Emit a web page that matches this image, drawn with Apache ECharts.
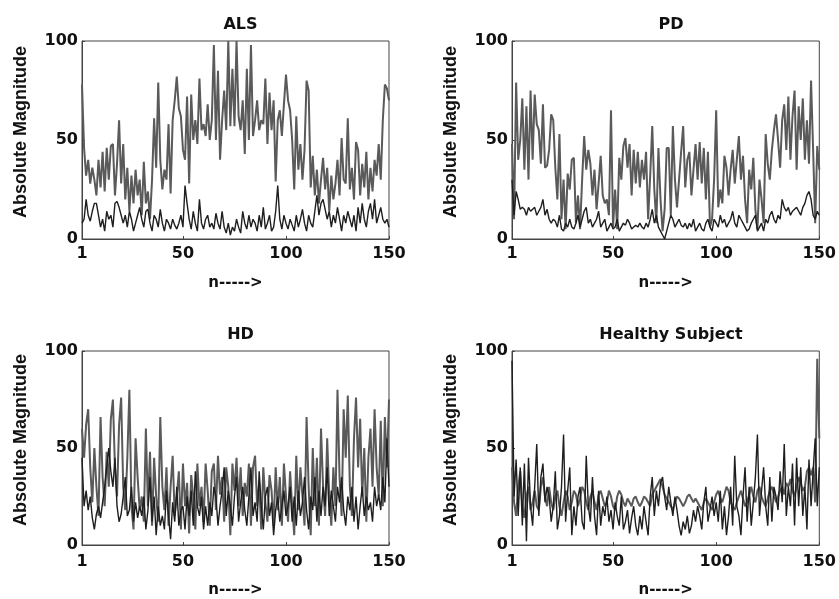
<!DOCTYPE html>
<html>
<head>
<meta charset="utf-8">
<script src="https://cdn.jsdelivr.net/npm/echarts@6/dist/echarts.min.js"></script>
<style>html,body{margin:0;padding:0;background:#fff}#c{width:839px;height:599px}</style>
</head>
<body>
<div id="c"></div>
<script>
const titles = ["ALS", "PD", "HD", "Healthy Subject"];
const xTicks = [1, 50, 100, 150];
const yTicks = [0, 50, 100];

const ALS_A = [78,46,32,40,28,36,30,22,40,26, 44,24,46,30,47,48,22,38,60,28, 48,20,36,14,32,18,35,22,30,12,
  39,18,24,10,30,61,36,79,40,25, 35,30,58,23,60,70,82,66,62,45, 40,72,28,73,50,60,48,81,55,58,
  52,68,50,60,98,50,85,40,60,75, 55,100,57,86,57,100,62,55,70,43, 86,50,98,52,60,70,55,60,58,81,
  48,74,55,70,29,60,65,52,68,83, 70,65,50,25,62,35,48,30,45,80, 75,26,42,22,35,18,30,41,25,36,
  14,32,20,28,40,22,51,30,28,61, 25,36,20,49,45,22,38,26,44,20, 36,24,40,32,48,30,60,78,76,70];
const ALS_B = [8,10,20,12,9,14,18,18,12,6, 10,4,14,10,12,6,18,19,16,12, 8,12,6,14,10,4,8,12,16,10,
  6,14,15,8,4,12,10,6,15,8, 4,10,8,5,10,7,5,8,12,6, 27,18,10,5,14,8,4,20,8,5,
  10,12,6,8,5,13,8,5,14,6, 3,8,2,6,4,10,6,3,14,8, 5,12,6,10,8,4,12,6,16,5,
  8,12,4,6,14,27,10,5,12,8, 5,10,7,4,12,6,10,15,8,4, 12,8,6,14,22,12,18,20,15,10,
  14,6,12,8,16,10,4,12,8,14, 10,6,12,4,16,8,18,10,6,14, 18,10,20,8,12,16,10,8,10,6];

const PD_A = [48,10,79,40,50,71,35,67,30,75, 40,73,58,55,38,68,36,37,45,63, 60,36,20,53,10,30,5,33,25,40,
  41,8,22,5,30,52,35,45,38,22, 35,15,28,42,22,18,20,12,65,6, 25,5,41,30,47,51,36,48,22,45,
  28,44,26,40,30,44,10,32,57,25, 8,46,20,4,15,46,46,12,57,30, 16,30,44,57,26,40,44,22,35,48,
  30,49,28,46,20,44,6,10,30,65, 16,25,18,42,36,22,35,45,28,40, 52,30,42,20,8,35,25,41,15,5,
  30,20,8,53,38,30,45,55,63,50, 36,60,68,45,72,40,62,75,35,67, 50,71,40,60,38,80,45,8,47,35];
const PD_B = [30,12,24,20,15,16,15,12,16,14, 15,16,12,14,16,20,12,15,10,8, 10,9,6,12,5,4,8,6,10,6,
  5,8,12,6,10,14,16,8,10,6, 8,10,14,6,8,10,4,6,8,5, 6,10,4,6,8,7,10,8,5,6,
  7,6,8,6,5,8,6,10,15,8, 12,6,4,2,0,4,8,12,10,6, 8,10,7,6,8,5,8,6,10,4,
  6,8,5,4,8,10,6,4,10,8, 6,12,8,10,6,8,10,14,8,6, 12,10,8,6,4,5,8,10,12,4,
  6,8,4,10,8,12,14,10,8,12, 10,20,16,14,16,12,14,15,16,14, 12,16,18,22,24,20,12,10,14,12];

const HD_A = [60,45,62,70,40,22,50,30,15,66, 35,20,48,30,65,75,40,25,62,76, 30,18,45,80,20,8,55,35,18,25,
  12,60,20,48,10,45,25,12,66,30, 18,40,10,30,46,15,25,38,8,42, 20,32,6,36,25,8,42,20,30,12,
  42,28,10,38,42,18,46,26,35,12, 40,30,5,42,28,45,20,40,15,32, 25,42,10,40,46,20,32,8,40,22,
  12,36,28,10,40,18,35,10,42,25, 12,38,20,5,46,18,40,25,10,66, 30,5,50,20,45,10,60,30,15,55,
  25,10,40,20,80,35,15,70,45,77, 30,15,55,76,40,65,25,50,12,45, 60,30,70,40,25,64,20,66,40,75];
const HD_B = [45,20,28,18,25,14,8,16,20,14, 22,30,40,50,38,30,45,20,12,16, 25,35,15,18,30,12,22,14,20,15,
  25,8,18,35,12,25,5,20,10,15, 8,28,15,3,22,12,30,10,18,20, 8,25,15,28,10,38,20,15,25,8,
  20,10,22,15,30,25,10,20,28,40, 15,28,20,10,25,35,12,22,30,18, 10,25,40,15,22,12,38,20,8,25,
  30,15,22,5,18,25,12,20,28,15, 20,30,12,25,10,28,15,22,35,18, 8,25,18,35,12,28,15,30,20,40,
  15,28,20,12,30,22,35,18,10,25, 18,30,12,25,8,20,30,15,25,18, 22,12,30,20,26,18,35,22,55,30];

const HS_A = [40,22,15,30,38,20,14,25,30,18, 22,28,20,18,30,35,25,20,30,22, 18,25,28,20,15,22,28,25,18,22,
  28,26,20,24,30,28,22,18,25,28, 22,18,26,28,24,20,22,28,25,20, 18,25,28,26,22,20,24,22,20,24,
  25,22,20,22,25,24,22,20,26,28, 30,32,34,30,26,24,22,20,18,22, 25,24,22,20,22,25,26,24,22,24,
  22,20,18,22,24,22,20,18,22,26, 28,24,22,26,30,28,22,20,18,22, 25,28,24,20,22,26,30,25,22,28,
  30,25,22,20,24,28,30,26,22,25, 28,30,26,32,30,34,28,25,30,35, 32,28,30,38,40,36,40,22,96,55];
const HS_B = [95,25,44,15,40,10,42,2,45,20, 10,30,52,15,35,42,22,30,25,12, 20,38,8,15,30,57,12,28,40,5,
  20,10,25,30,12,8,46,20,12,35, 15,5,28,10,20,15,25,12,18,8, 22,15,10,25,8,12,18,6,14,20,
  10,5,15,8,20,12,5,25,35,15, 28,20,32,35,25,18,30,22,15,25, 18,10,5,12,8,15,6,10,18,12,
  20,15,8,22,30,12,18,25,15,22, 12,28,8,20,5,15,30,10,46,20, 15,5,25,40,12,30,10,22,35,57,
  15,28,40,20,10,35,12,30,25,18, 38,22,52,15,30,20,42,10,45,20, 40,15,30,8,44,20,38,55,20,40];

const panels = [[ALS_A, ALS_B], [PD_A, PD_B], [HD_A, HD_B], [HS_A, HS_B]];
const grids = [
  {left: 82, top: 41, width: 307, height: 198},
  {left: 512, top: 41, width: 308, height: 198},
  {left: 82, top: 351, width: 307, height: 197},
  {left: 512, top: 351, width: 308, height: 197}
];

const chart = echarts.init(document.getElementById('c'), null, {renderer: 'canvas'});
const bold = {fontFamily: 'DejaVu Sans', fontWeight: 'bold', color: '#111'};

const option = {
  backgroundColor: '#fff',
  animation: false,
  title: titles.map((t, i) => ({
    text: t,
    left: grids[i].left + grids[i].width / 2,
    top: grids[i].top - 29,
    textAlign: 'center',
    textStyle: Object.assign({fontSize: 16}, bold)
  })),
  grid: grids.map(g => Object.assign({show: true, borderColor: '#444', borderWidth: 1, backgroundColor: '#fff'}, g)),
  xAxis: grids.map((g, i) => ({
    gridIndex: i, type: 'value', min: 1, max: 150,
    name: 'n----->', nameLocation: 'middle', nameGap: i < 2 ? 37 : 38,
    nameTextStyle: Object.assign({fontSize: 15}, bold),
    axisLine: {show: true, lineStyle: {color: '#444'}},
    axisTick: {show: true, inside: true, length: 3, customValues: xTicks, lineStyle: {color: '#444'}},
    axisLabel: Object.assign({fontSize: 16, margin: i < 2 ? 7 : 9, customValues: xTicks}, bold),
    splitLine: {show: false}
  })),
  yAxis: grids.map((g, i) => ({
    gridIndex: i, type: 'value', min: 0, max: 100, interval: 50,
    name: 'Absolute Magnitude', nameLocation: 'middle', nameGap: 52, nameRotate: 90,
    nameTextStyle: {fontSize: 18, fontFamily: 'Liberation Sans', fontWeight: 'bold', color: '#111', padding: [0, 0, 0, 16]},
    axisLine: {show: true, lineStyle: {color: '#444'}},
    axisTick: {show: true, inside: true, length: 3, lineStyle: {color: '#444'}},
    axisLabel: Object.assign({fontSize: 16, margin: 4}, bold),
    splitLine: {show: false}
  })),
  series: []
};

panels.forEach((p, i) => {
  option.series.push({
    type: 'line', xAxisIndex: i, yAxisIndex: i, showSymbol: false, symbol: 'none',
    data: p[0].map((v, k) => [k + 1, v]),
    lineStyle: {color: '#5a5a5a', width: 2}
  });
  option.series.push({
    type: 'line', xAxisIndex: i, yAxisIndex: i, showSymbol: false, symbol: 'none',
    data: p[1].map((v, k) => [k + 1, v]),
    lineStyle: {color: '#1e1e1e', width: 1.4}
  });
});

chart.setOption(option);
</script>
</body>
</html>
